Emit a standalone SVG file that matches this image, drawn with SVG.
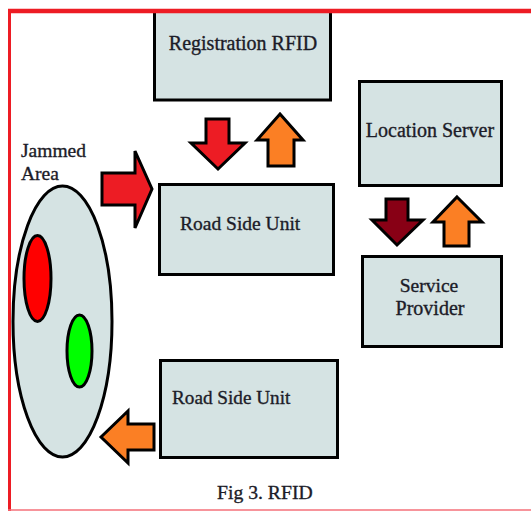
<svg xmlns="http://www.w3.org/2000/svg" width="531" height="511" viewBox="0 0 531 511">
<style>
.box{fill:#d5e3e3;stroke:#000;stroke-width:3}
.t{font-family:"Liberation Serif","Times New Roman",serif;font-size:20px;fill:#1c1c28;stroke:#1c1c28;stroke-width:0.35px}
.arr{stroke:#000;stroke-width:3;stroke-linejoin:miter}
.red{fill:#ed1c24}
.org{fill:#fb7f24}
.drk{fill:#880015}
</style>
<rect width="531" height="511" fill="#fff"/>
<g id="registration-rfid">
<rect class="box" x="154.5" y="11" width="176" height="89"/>
<text class="t" x="243" y="50" text-anchor="middle">Registration RFID</text>
</g>
<g id="location-server">
<rect class="box" x="359.5" y="81.5" width="142" height="104"/>
<text class="t" x="430" y="137" text-anchor="middle">Location Server</text>
</g>
<g id="road-side-unit-1">
<rect class="box" x="159.5" y="184.5" width="174" height="90"/>
<text class="t" x="180" y="230" style="font-size:19.5px">Road Side Unit</text>
</g>
<g id="service-provider">
<rect class="box" x="362.5" y="256.5" width="139" height="90"/>
<text class="t" x="429" y="292" text-anchor="middle" style="font-size:19.5px">Service</text>
<text class="t" x="430" y="315" text-anchor="middle">Provider</text>
</g>
<g id="road-side-unit-2">
<rect class="box" x="160.5" y="360.5" width="177" height="97"/>
<text class="t" x="172" y="404" style="font-size:19.2px">Road Side Unit</text>
</g>
<g id="jammed-area">
<text class="t" x="21" y="157" style="font-size:19.5px">Jammed</text>
<text class="t" x="21" y="180" style="font-size:19.5px">Area</text>
<ellipse cx="62.5" cy="321.5" rx="49.5" ry="135.5" fill="#d5e3e3" stroke="#000" stroke-width="3"/>
<ellipse cx="37.5" cy="278.5" rx="13.5" ry="43" fill="#ff0000" stroke="#000" stroke-width="3"/>
<ellipse cx="79.5" cy="351" rx="12.5" ry="36" fill="#00ff00" stroke="#000" stroke-width="3"/>
</g>
<g id="connectors">
<polygon class="arr red" points="206,119 229,119 229,143 245,143 218,169 191,143 206,143"/>
<polygon class="arr org" points="280,114 303,140 294,140 294,166 268,166 268,140 257,140"/>
<polygon class="arr red" points="102,173 135,173 135,151 152,189 135,228 135,205 102,205"/>
<polygon class="arr drk" points="386,199 408,199 408,220 423,220 397,245 372,220 386,220"/>
<polygon class="arr org" points="457,197 482,222 469,222 469,246 444,246 444,222 433,222"/>
<polygon class="arr org" points="101,437 128,411 128,424 154,424 154,450 128,450 128,463"/>
</g>
<g id="caption">
<text class="t" x="217" y="499" style="font-size:19.7px">Fig 3. RFID</text>
</g>
<g id="frame">
<line x1="8" y1="11" x2="531" y2="11" stroke="#ed1c24" stroke-width="4.5"/>
<line x1="9.5" y1="9" x2="9.5" y2="511" stroke="#ed1c24" stroke-width="3"/>
<line x1="8" y1="510" x2="531" y2="510" stroke="#f5707a" stroke-width="1.5"/>
</g>
</svg>
